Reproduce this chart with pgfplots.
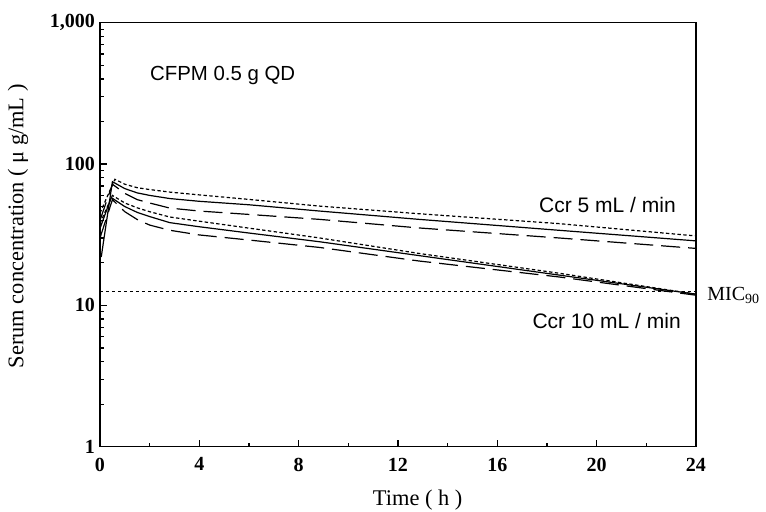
\documentclass[border=0pt]{standalone}
\usepackage{pgfplots}
\pgfplotsset{compat=1.18}
\usepackage{fontspec}
\setmainfont{Liberation Serif}
\newfontfamily\arial{Liberation Sans}

\begin{document}
\begin{tikzpicture}
\begin{axis}[
    width=298pt, height=212pt, scale only axis,
    ymode=log,
    xmin=0, xmax=24, ymin=1, ymax=1000,
    xtick={0,4,...,24},
    minor xtick={2,6,...,22},
    ytick={1,10,100,1000},
    yticklabels={1,10,100,{1,000}},
    tick align=inside,
    xtick pos=bottom, ytick pos=left,
    major tick length=3.3pt, minor tick length=2pt,
    axis line style={line width=0.65pt},
    tick style={line width=0.6pt, black},
    /pgf/number format/assume math mode=true,
    tick label style={font=\fontsize{10}{12}\selectfont\bfseries},
    xticklabel style={yshift=-2pt},
    yticklabel style={xshift=1pt},
    xlabel={Time ( h )},
    ylabel={Serum concentration ( μ g/mL )},
    label style={font=\fontsize{11.2}{13}\selectfont},
    xlabel style={at={(axis description cs:0.533,-0.125)}, anchor=center},
    ylabel style={at={(axis description cs:-0.1376,0.52)}, anchor=center},
    every axis plot/.append style={line width=0.6pt, black, mark=none},
    clip mode=individual,
]
% Ccr 5 mL/min
\addplot[dash pattern=on 1.7pt off 1.2pt] coordinates {
    (0,45)(0.6,78)(1,72)(1.5,68)(2,66)(2.81,63.3)(4,60.5)(6,56.2)(8.84,50.4)(12.85,44.5)(18.47,37.9)(24,31.0)};
\addplot[solid] coordinates {
    (0.05,22)(0.5,75)(1,67)(1.5,62.5)(2,60)(2.81,57)(4,54.5)(6,51.5)(8.84,46.5)(12.85,40.6)(18.47,34.0)(24,28.6)};
\addplot[dash pattern=on 9.5pt off 4pt] coordinates {
    (0,40)(0.5,72)(1,62)(1.5,56)(2,53)(2.81,48.8)(4,46.5)(6,44)(8.84,40.6)(12.85,35.3)(18.47,30.0)(24,25.3)};
% Ccr 10 mL/min
\addplot[dash pattern=on 1.7pt off 1.2pt] coordinates {
    (0,38)(0.5,60)(1,53)(1.5,49)(2,46)(2.81,42.2)(4,39.4)(6,35.2)(8.84,30.0)(12.85,23.3)(18.47,16.9)(24,12.0)};
\addplot[solid] coordinates {
    (0,35)(0.45,58)(1,50)(1.5,45.5)(2,42.5)(2.81,38.5)(4,36.0)(6,32.5)(8.84,28.2)(12.85,22.5)(18.47,16.4)(24,12.0)};
\addplot[dash pattern=on 9.5pt off 4pt] coordinates {
    (0,30)(0.5,56)(1,46)(1.5,40.5)(2,37)(2.81,34.0)(4,31.5)(6,29)(8.84,25.7)(12.85,20.6)(18.47,15.9)(24,11.8)};
% MIC90
\addplot[dash pattern=on 1.7pt off 1.3pt] coordinates {(0,12.5)(24,12.5)};

\node[anchor=west, inner sep=0pt, font=\arial\fontsize{10.2}{12}\selectfont] at (axis cs:2.0,422) {CFPM 0.5 g QD};
\node[anchor=east, inner sep=0pt, font=\arial\fontsize{10.5}{12}\selectfont] at (axis cs:23.2,51.5) {Ccr 5 mL\;/\;min};
\node[anchor=east, inner sep=0pt, font=\arial\fontsize{10.5}{12}\selectfont] at (axis cs:23.4,7.76) {Ccr 10 mL\;/\;min};
\node[anchor=west, inner sep=0pt, font=\fontsize{10}{12}\selectfont, xshift=5.5pt] at (axis cs:24,11.8) {MIC\textsubscript{90}};
\end{axis}
\pgfresetboundingbox
\useasboundingbox (-50pt,-32.15pt) rectangle (333pt,223.35pt);
\end{tikzpicture}
\end{document}
